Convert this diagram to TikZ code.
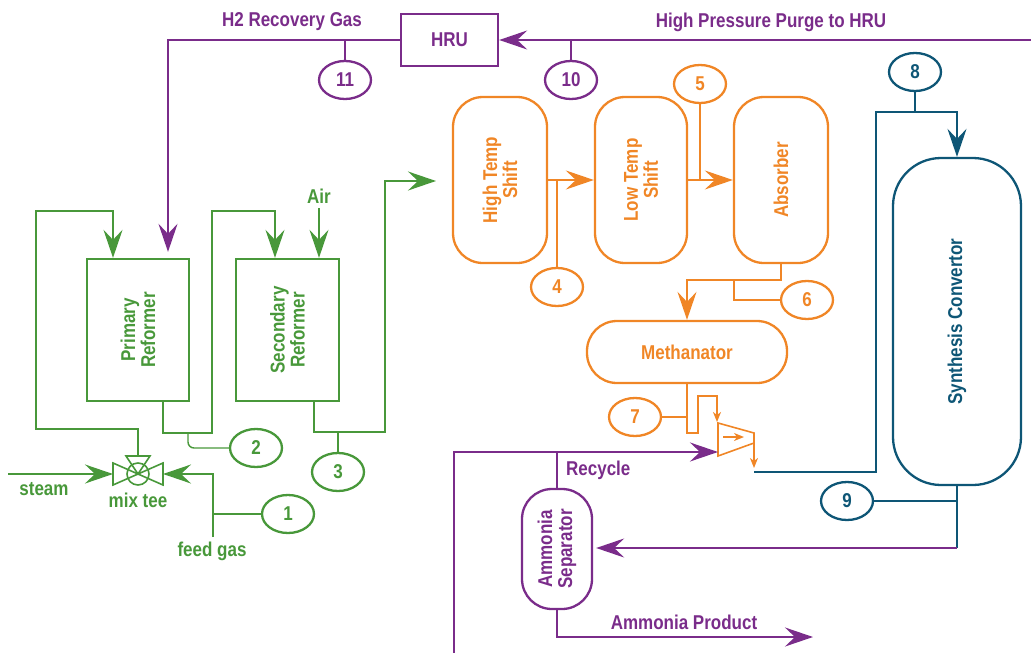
\documentclass[tikz,border=0pt]{standalone}
\usepackage{fontspec}
\setmainfont{Liberation Sans}[FakeStretch=0.85]
\usetikzlibrary{arrows.meta,shapes.geometric}
\definecolor{grn}{RGB}{72,152,58}
\definecolor{org}{RGB}{240,134,38}
\definecolor{prp}{RGB}{122,44,138}
\definecolor{tel}{RGB}{14,86,118}

\begin{document}
\begin{tikzpicture}[x=1pt,y=-1pt,line width=2.3pt,
    txt/.style={font=\bfseries\fontsize{20}{20}\selectfont,text=#1,align=center,inner sep=0pt},
    box/.style={draw=#1,rectangle,inner sep=0pt},
    vessel/.style={draw=#1,rectangle,rounded corners=30pt,inner sep=0pt},
    tag/.style={draw=#1,ellipse,minimum width=52pt,minimum height=38pt,inner sep=0pt,text=#1,font=\bfseries\fontsize{20}{20}\selectfont},
    pipe/.style={draw=#1,line width=2.3pt},
    lead/.style={draw=#1,line width=1.4pt},
    flow/.style={-{Stealth[length=28pt,width=19pt,inset=10pt]}},
    tick/.style={-{Stealth[length=10pt,width=8pt,inset=3pt]}}]
    \useasboundingbox (0,0) rectangle (1031,653);

    % Reformers
    \node[box=grn,minimum width=102pt,minimum height=142pt] (prim) at (138,330) {};
    \node[txt=grn,rotate=90] at (prim) {Primary\\Reformer};
    \node[box=grn,minimum width=103pt,minimum height=142pt] (sec) at (287.5,330) {};
    \node[txt=grn,rotate=90] at (sec) {Secondary\\Reformer};

    % Shift, absorber, methanator
    \node[vessel=org,minimum width=94pt,minimum height=166pt] (hts) at (500,180) {};
    \node[txt=org,rotate=90] at (hts) {High Temp\\Shift};
    \node[vessel=org,minimum width=92pt,minimum height=166pt] (lts) at (641,180) {};
    \node[txt=org,rotate=90] at (lts) {Low Temp\\Shift};
    \node[vessel=org,minimum width=94pt,minimum height=166pt] (abs) at (781,180) {};
    \node[txt=org,rotate=90] at (abs) {Absorber};
    \node[vessel=org,txt=org,minimum width=200pt,minimum height=62pt] (meth) at (687,352) {Methanator};

    % Synthesis loop
    \node[vessel=tel,rounded corners=48pt,minimum width=128pt,minimum height=327pt] (syn) at (957,321.5) {};
    \node[txt=tel,rotate=90] at (syn) {Synthesis Convertor};
    \node[vessel=prp,minimum width=70pt,minimum height=120pt] (sep) at (557,549) {};
    \node[txt=prp,rotate=90] at (sep) {Ammonia\\Separator};
    \node[box=prp,txt=prp,minimum width=97pt,minimum height=52pt] (hru) at (449.5,40) {HRU};

    % Stream numbers
    \foreach \n/\x/\y/\c in {1/288/514/grn,2/256/448/grn,3/338/472/grn,4/557/287/org,5/700/84/org,6/807/300/org,
                             7/635/417/org,8/915/72/tel,9/847/501/tel,10/571/80/prp,11/345/80/prp}
        \node[tag=\c] (t\n) at (\x,\y) {\n};

    % Mix tee
    \coordinate (mix) at (138,474);
    \coordinate (mixin) at (113,474);
    \coordinate (mixfeed) at (163,474);
    \coordinate (mixtop) at (138,456);
    \draw[grn,line width=1.6pt] (113,463) -- (113,485) -- (163,463) -- (163,485) -- cycle;
    \draw[grn,line width=1.6pt] (126,456) -- (150,456) -- (mix) -- cycle;
    \draw[grn,line width=1.6pt] (mix) circle[radius=11pt];
    \node[txt=grn] (mixlbl) at (138,500) {mix tee};

    % Front end
    \node[txt=grn] (steam) at (44,489) {steam};
    \node[txt=grn] (feed) at (212,551) {feed gas};
    \node[txt=grn] (air) at (319,196) {Air};
    \coordinate (steamin) at (8,474);
    \coordinate (feedin) at (213,537);
    \draw[pipe=grn,flow] (steamin) -- (mixin);
    \draw[pipe=grn,flow] (feedin) |- (mixfeed);
    \draw[lead=grn] (t1.west) -- (t1.west -| feedin);
    \draw[pipe=grn,flow] (mixtop) -- (138,429) -| (36,211) -| ([xshift=-25pt]prim.north);
    \draw[pipe=grn,flow] ([xshift=25pt]prim.south) |- (212,433) -- (212,211) -| ([xshift=-12.5pt]sec.north);
    \draw[lead=grn,rounded corners=6pt] (188,433) |- (t2.west);
    \draw[pipe=grn,flow] ([yshift=-4pt]air.south) -- (air.south |- sec.north);
    \draw[pipe=grn,flow] ([xshift=26.5pt]sec.south) |- (385,432) -- (385,181) -- (436,181);
    \draw[lead=grn] (t3.north) -- (t3.north |- 0,432);

    % Shift train
    \draw[pipe=org,flow] (hts.east) -- (lts.west);
    \draw[lead=org] (t4.north) -- (t4.north |- hts.east);
    \draw[pipe=org,flow] (lts.east) -- (abs.west);
    \draw[lead=org] (t5.south) -- (t5.south |- lts.east);
    \draw[pipe=org,flow] (abs.south) -- ++(0,16) -| (meth.north);
    \draw[lead=org] (t6.west) -| (734,279);

    % Compressor
    \draw[org,line width=1.6pt] (718,423) coordinate (cnw) -- (754,433) coordinate (cne) -- (754,443) -- (718,456) -- cycle;
    \draw[org,line width=1.6pt,tick] (723,437) -- (744,437);
    \draw[org,line width=1.6pt,tick] (meth.south) |- (698,433) |- (717,396) -- (717,422);
    \draw[lead=org] (t7.east) -- (t7.east -| meth.south);
    \draw[org,line width=1.6pt,tick] (cne) -- (754,468);

    % Converter
    \draw[pipe=tel,flow] (754,472) -| (876,112) -| (syn.north);
    \draw[lead=tel] (t8.south) -- (t8.south |- 876,112);
    \draw[pipe=tel] (syn.south) -- (957,548) coordinate (synout);
    \draw[lead=tel] (t9.east) -- (t9.east -| syn.south);

    % Purge, recycle and product
    \draw[pipe=prp,flow] (1031,40) -- (hru.east);
    \draw[pipe=prp,flow] (hru.west) -| ([xshift=30pt,yshift=6pt]prim.north);
    \node[txt=prp] (h2lbl) at (292,22) {H2 Recovery Gas};
    \node[txt=prp] (hplbl) at (771,22) {High Pressure Purge to HRU};
    \draw[lead=prp] (t10.north) -- (t10.north |- hru.east);
    \draw[lead=prp] (t11.north) -- (t11.north |- hru.west);
    \draw[pipe=prp,flow] (synout) -- ([xshift=3pt]sep.east |- synout);
    \draw[pipe=prp,flow] (454,653) |- (cnw |- 0,452);
    \draw[pipe=prp] (sep.north) -- (sep.north |- 0,452);
    \node[txt=prp,anchor=west] (reclbl) at (565,470) {Recycle};
    \draw[pipe=prp,flow] (sep.south) |- (813,637);
    \node[txt=prp] (prodlbl) at (684,622) {Ammonia Product};
\end{tikzpicture}
\end{document}
